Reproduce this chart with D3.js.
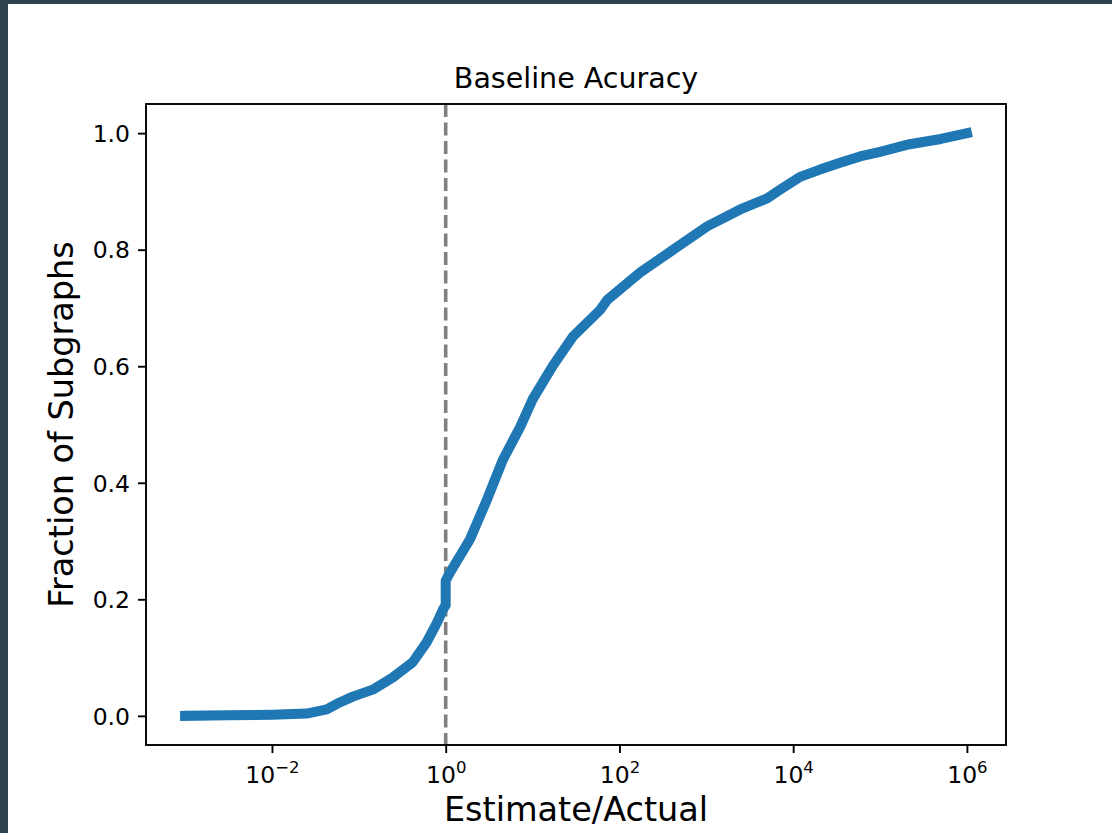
<!DOCTYPE html>
<html>
<head>
<meta charset="utf-8">
<script src="https://cdn.jsdelivr.net/npm/d3@7"></script>
<style>
  html, body { margin: 0; padding: 0; background: #2d4350; }
  svg { display: block; }
  text { font-family: "DejaVu Sans", sans-serif; fill: #000; }
</style>
</head>
<body>
<svg id="chart" width="1112" height="833"></svg>
<script>
// ---- data ----
const chartTitle = "Baseline Acuracy";
const xLabel = "Estimate/Actual";
const yLabel = "Fraction of Subgraphs";
// log10(Estimate/Actual) of each sampled CDF point
const logRatio = [-3.0, -2.5, -2.0, -1.6, -1.37, -1.22, -1.07, -0.84, -0.61, -0.38, -0.22, -0.1, -0.03, 0.0, 0.0,
  0.05, 0.28, 0.475, 0.66, 0.855, 1.0, 1.23, 1.465, 1.78, 1.86, 2.24, 2.62, 3.01, 3.39, 3.7, 3.85, 4.08, 4.3, 4.54, 4.77, 5.0, 5.34, 5.7, 6.0];
// cumulative fraction of subgraphs
const fraction = [0.0, 0.001, 0.002, 0.004, 0.011, 0.023, 0.033, 0.045, 0.066, 0.092, 0.126, 0.16, 0.183, 0.19, 0.232,
  0.246, 0.303, 0.371, 0.44, 0.495, 0.543, 0.6, 0.651, 0.697, 0.714, 0.761, 0.80, 0.84, 0.869, 0.888, 0.903, 0.925, 0.937, 0.949, 0.96, 0.968, 0.981, 0.99, 1.0];
const xTickExponents = [-2, 0, 2, 4, 6];
const yTickValues = [0.0, 0.2, 0.4, 0.6, 0.8, 1.0];
const referenceRatio = 1;

// ---- layout ----
const svg = d3.select("#chart");
const m = { left: 146, right: 1006, top: 104, bottom: 745 };

svg.append("rect").attr("x", 8).attr("y", 4).attr("width", 1104).attr("height", 829).attr("fill", "#ffffff");

const x = d3.scaleLog().domain([Math.pow(10, -3.45), Math.pow(10, 6.45)]).range([m.left, m.right]);
const y = d3.scaleLinear().domain([-0.05, 1.05]).range([m.bottom, m.top]);

const pts = logRatio.map((e, i) => ({ x: Math.pow(10, e), y: fraction[i] }));

svg.append("clipPath").attr("id", "clip").append("rect")
  .attr("x", m.left).attr("y", m.top).attr("width", m.right - m.left).attr("height", m.bottom - m.top);

const plot = svg.append("g").attr("clip-path", "url(#clip)");

// reference dashed line at ratio = 1
plot.append("line")
  .attr("x1", x(referenceRatio)).attr("x2", x(referenceRatio))
  .attr("y1", m.top).attr("y2", m.bottom)
  .attr("stroke", "#808080").attr("stroke-width", 3.6)
  .attr("stroke-dasharray", "13,5.5");

// CDF curve
const line = d3.line().x(d => x(d.x)).y(d => y(d.y));
plot.append("path").datum(pts)
  .attr("d", line)
  .attr("fill", "none")
  .attr("stroke", "#1f77b4")
  .attr("stroke-width", 10)
  .attr("stroke-linejoin", "round")
  .attr("stroke-linecap", "square");

// ---- axes ----
const xAxis = d3.axisBottom(x)
  .tickValues(xTickExponents.map(e => Math.pow(10, e)))
  .tickSize(8).tickPadding(8).tickFormat(() => "");
const gx = svg.append("g").attr("transform", `translate(0,${m.bottom})`).call(xAxis);
gx.select(".domain").remove();
gx.selectAll(".tick line").attr("stroke", "#000").attr("stroke-width", 1.9);
gx.selectAll(".tick text").each(function(d) {
  const t = d3.select(this);
  const e = Math.round(Math.log10(d));
  t.text(null).attr("font-size", 23.5).attr("y", 38).attr("dy", null).attr("fill", "#000");
  t.append("tspan").text("10");
  t.append("tspan").attr("font-size", 16.5).attr("dy", -10)
    .text(e < 0 ? "\u2212" + Math.abs(e) : String(e));
});

const yAxis = d3.axisLeft(y).tickValues(yTickValues).tickSize(8).tickPadding(8).tickFormat(d3.format(".1f"));
const gy = svg.append("g").attr("transform", `translate(${m.left},0)`).call(yAxis);
gy.select(".domain").remove();
gy.selectAll(".tick line").attr("stroke", "#000").attr("stroke-width", 1.9);
gy.selectAll(".tick text").attr("font-size", 23.5).attr("fill", "#000")
  .attr("font-family", "DejaVu Sans").attr("dy", "0.35em");
gx.selectAll("text").attr("font-family", "DejaVu Sans");

// frame
svg.append("rect")
  .attr("x", m.left).attr("y", m.top)
  .attr("width", m.right - m.left).attr("height", m.bottom - m.top)
  .attr("fill", "none").attr("stroke", "#000").attr("stroke-width", 1.9);

// title and labels
svg.append("text").attr("x", (m.left + m.right) / 2).attr("y", 88)
  .attr("text-anchor", "middle").attr("font-size", 28.5).text(chartTitle);
svg.append("text").attr("x", (m.left + m.right) / 2).attr("y", 821)
  .attr("text-anchor", "middle").attr("font-size", 33.5).text(xLabel);
svg.append("text")
  .attr("transform", `translate(73,${(m.top + m.bottom) / 2}) rotate(-90)`)
  .attr("text-anchor", "middle").attr("font-size", 33.5).text(yLabel);
</script>
</body>
</html>
